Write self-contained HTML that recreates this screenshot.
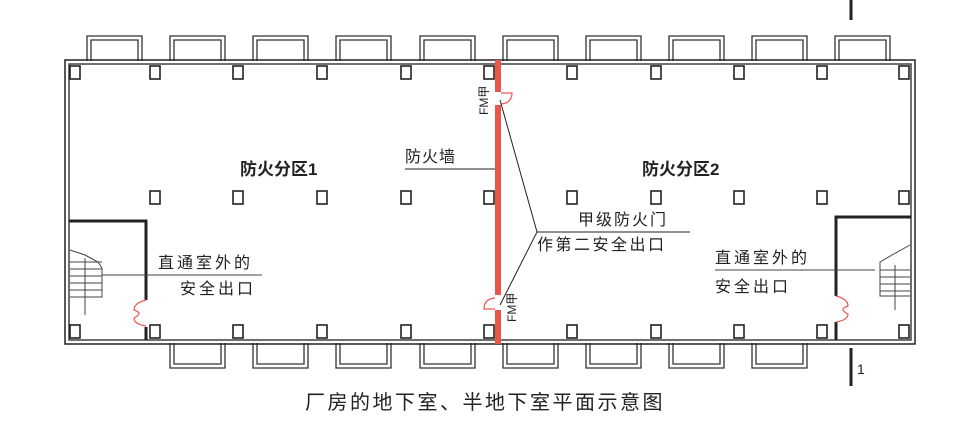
<!DOCTYPE html>
<html><head><meta charset="utf-8"><style>
html,body{margin:0;padding:0;background:#fff;}
svg{display:block}
text{font-family:"Liberation Sans","Noto Sans CJK SC",sans-serif;fill:#222}
</style></head><body>
<svg width="973" height="441" viewBox="0 0 973 441" xmlns="http://www.w3.org/2000/svg">
<defs>
<g id="bt" fill="none" stroke="#333" stroke-width="1.3">
<path d="M0 61 V36 H55 V61"/><path d="M4 61 V40 H51 V61"/>
</g>
<g id="bb" fill="none" stroke="#333" stroke-width="1.3">
<path d="M0 343 V368 H55 V343"/><path d="M4 343 V364 H51 V343"/>
</g>
<rect id="c" width="10" height="13" fill="#fff" stroke="#222" stroke-width="1.6"/>
</defs>
<use href="#bt" x="87"/><use href="#bt" x="170"/><use href="#bt" x="253"/><use href="#bt" x="336"/><use href="#bt" x="420"/><use href="#bt" x="503"/><use href="#bt" x="586"/><use href="#bt" x="669"/><use href="#bt" x="752"/><use href="#bt" x="835"/>
<use href="#bb" x="170"/><use href="#bb" x="253"/><use href="#bb" x="336"/><use href="#bb" x="420"/><use href="#bb" x="503"/><use href="#bb" x="586"/><use href="#bb" x="669"/><use href="#bb" x="752"/>
<rect x="65" y="60" width="850" height="284" fill="none" stroke="#222" stroke-width="1.5"/>
<rect x="69" y="64" width="842" height="276" fill="none" stroke="#222" stroke-width="1.3"/>
<use href="#c" x="70" y="66"/><use href="#c" x="150" y="66"/><use href="#c" x="233" y="66"/><use href="#c" x="317" y="66"/><use href="#c" x="401" y="66"/><use href="#c" x="484" y="66"/><use href="#c" x="567" y="66"/><use href="#c" x="651" y="66"/><use href="#c" x="734" y="66"/><use href="#c" x="817" y="66"/><use href="#c" x="899" y="66"/>
<use href="#c" x="150" y="191"/><use href="#c" x="233" y="191"/><use href="#c" x="317" y="191"/><use href="#c" x="401" y="191"/><use href="#c" x="484" y="191"/><use href="#c" x="567" y="191"/><use href="#c" x="651" y="191"/><use href="#c" x="734" y="191"/><use href="#c" x="817" y="191"/><use href="#c" x="899" y="191"/>
<use href="#c" x="70" y="325"/><use href="#c" x="150" y="325"/><use href="#c" x="233" y="325"/><use href="#c" x="317" y="325"/><use href="#c" x="401" y="325"/><use href="#c" x="484" y="325"/><use href="#c" x="567" y="325"/><use href="#c" x="651" y="325"/><use href="#c" x="734" y="325"/><use href="#c" x="817" y="325"/><use href="#c" x="899" y="325"/>
<path d="M69 221 H146 V300 M146 327 V340" fill="none" stroke="#222" stroke-width="3"/>
<path d="M146 300 q-12 3 -12 10 q10 3 0 8 q0 6 12 8" fill="none" stroke="#e55" stroke-width="1.2"/>
<g stroke="#444" stroke-width="1" fill="none">
<path d="M70 250 L85 255 L98 262 L102 268 V297 H70"/>
<line x1="70" y1="262" x2="102" y2="262"/><line x1="70" y1="269" x2="102" y2="269"/><line x1="70" y1="276" x2="102" y2="276"/><line x1="70" y1="283" x2="102" y2="283"/><line x1="70" y1="290" x2="102" y2="290"/>
<line x1="85" y1="258" x2="85" y2="315"/><line x1="102" y1="275" x2="262" y2="275"/>
</g>
<path d="M911 217 H836 V296 M836 322 V340" fill="none" stroke="#222" stroke-width="3"/>
<path d="M836 296 q12 3 12 10 q-10 3 0 8 q0 6 -12 8" fill="none" stroke="#e55" stroke-width="1.2"/>
<g stroke="#444" stroke-width="1" fill="none">
<path d="M910 245 L892 255 L880 262 V296 H910"/>
<line x1="880" y1="270" x2="910" y2="270"/><line x1="880" y1="277" x2="910" y2="277"/><line x1="880" y1="284" x2="910" y2="284"/><line x1="880" y1="291" x2="910" y2="291"/>
<line x1="895" y1="265" x2="895" y2="310"/><line x1="715" y1="270" x2="875" y2="270"/>
</g>
<rect x="495" y="60" width="6" height="32" fill="#e8574c"/>
<rect x="495" y="105" width="6" height="190" fill="#e8574c"/>
<rect x="495" y="310" width="6" height="34" fill="#e8574c"/>
<path d="M501 93 H512 q0 10 -11 11" fill="none" stroke="#e55" stroke-width="1.2"/>
<path d="M495 309 H484 q0 -10 11 -11" fill="none" stroke="#e55" stroke-width="1.2"/>
<g stroke="#222" stroke-width="1" fill="none">
<line x1="405" y1="169" x2="495" y2="169"/>
<path d="M500 100 L537 232 L500 305"/>
<line x1="537" y1="232" x2="690" y2="232"/>
</g>
<text x="0" y="0" font-size="12" transform="translate(488,115) rotate(-90)">FM甲</text>
<text x="0" y="0" font-size="12" transform="translate(516,322) rotate(-90)">FM甲</text>
<text x="240" y="175" font-size="17" font-weight="bold">防火分区1</text>
<text x="642" y="175" font-size="17" font-weight="bold">防火分区2</text>
<text x="405" y="162" font-size="16" letter-spacing="1">防火墙</text>
<text x="578" y="225" font-size="16" letter-spacing="2">甲级防火门</text>
<text x="537" y="250" font-size="16" letter-spacing="2.5">作第二安全出口</text>
<text x="158" y="268" font-size="16" letter-spacing="3">直通室外的</text>
<text x="180" y="294" font-size="16" letter-spacing="3">安全出口</text>
<text x="715" y="263" font-size="16" letter-spacing="3">直通室外的</text>
<text x="715" y="292" font-size="16" letter-spacing="3">安全出口</text>
<line x1="851" y1="0" x2="851" y2="20" stroke="#222" stroke-width="3"/>
<line x1="851" y1="348" x2="851" y2="386" stroke="#222" stroke-width="3"/>
<text x="857" y="374" font-size="14">1</text>
<text x="305" y="409" font-size="20" letter-spacing="2.5">厂房的地下室、半地下室平面示意图</text>
</svg>
</body></html>
